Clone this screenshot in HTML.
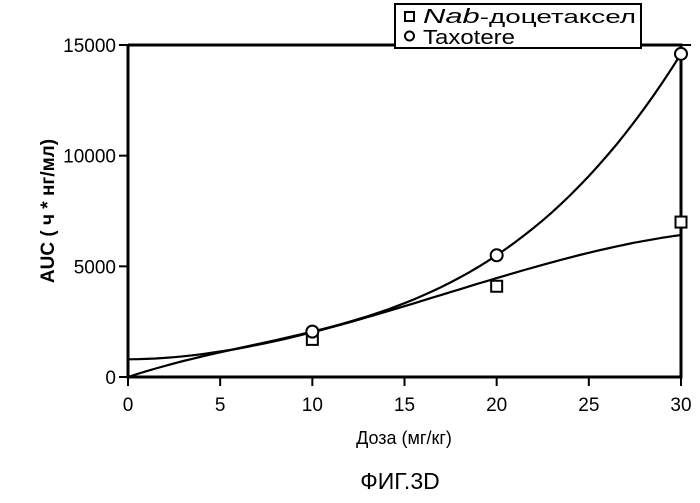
<!DOCTYPE html>
<html><head><meta charset="utf-8"><style>
body{margin:0;background:#fff;}
svg{font-family:"Liberation Sans",sans-serif;}
</style></head><body>
<svg width="700" height="498" viewBox="0 0 700 498">
<g id="axes"></g><g id="marks"></g>
</svg>
<script>
const xTicks=[0,5,10,15,20,25,30];
const yTicks=[0,5000,10000,15000];
const doses=[10,20,30];
const nabValues=[1700,4100,7000];
const taxValues=[2050,5500,14600];
const nabFit=[800,3.44,14.75,-0.2875]; // polynomial coefficients c0..c3
const NS='http://www.w3.org/2000/svg';
const X=v=>128+v*(681-128)/30;
const Y=v=>377-v*(377-45)/15000;
const axes=document.getElementById('axes'),marks=document.getElementById('marks');
function mk(p,tag,attrs,txt){const e=document.createElementNS(NS,tag);for(const k in attrs)e.setAttribute(k,attrs[k]);if(txt!==undefined)e.textContent=txt;p.appendChild(e);return e;}
let e;
e=mk(axes,'path',{d:`M${X(0)},${Y(15000)} V${Y(0)} H${X(30)} V${Y(15000)} H${X(0)}`,fill:'none',stroke:'#000','stroke-width':3});

xTicks.forEach(t=>{
 e=mk(axes,'line',{x1:X(t),x2:X(t),y1:Y(0),y2:Y(0)+9,stroke:'#000','stroke-width':2});
 
 e=mk(axes,'text',{x:X(t),y:Y(0)+34,'text-anchor':'middle','font-size':19},t);
 
});
yTicks.forEach(t=>{
 e=mk(axes,'line',{x1:X(0)-9,x2:X(0),y1:Y(t),y2:Y(t),stroke:'#000','stroke-width':2});
 
 e=mk(axes,'text',{x:X(0)-12,y:Y(t)+7,'text-anchor':'end','font-size':19},t);
 
});
e=mk(axes,'line',{x1:X(30)-6,x2:X(30)+10,y1:Y(15000),y2:Y(15000),stroke:'#000','stroke-width':2});

e=mk(axes,'text',{x:404,y:444,'text-anchor':'middle','font-size':18},'Доза (мг/кг)');

e=mk(axes,'text',{x:0,y:0,'text-anchor':'middle','font-size':19,'font-weight':'bold',transform:'translate(54,211) rotate(-90)'},'AUC ( ч * нг/мл)');

e=mk(axes,'text',{x:400,y:489,'text-anchor':'middle','font-size':23},'ФИГ.3D');

// Nab fit curve
let dn='';for(let i=0;i<=60;i++){const x=i*0.5;const y=nabFit[0]+nabFit[1]*x+nabFit[2]*x*x+nabFit[3]*x*x*x;dn+=(i?'L':'M')+X(x).toFixed(1)+','+Y(y).toFixed(1);}
e=mk(marks,'path',{d:dn,fill:'none',stroke:'#000','stroke-width':2.2});

// Taxotere cubic through origin and points
const xs=doses,ys=taxValues;
function solve3(A,b){const M=A.map((r,i)=>[...r,b[i]]);for(let i=0;i<3;i++){for(let j=i+1;j<3;j++){const f=M[j][i]/M[i][i];for(let k=i;k<4;k++)M[j][k]-=f*M[i][k];}}const x=[0,0,0];for(let i=2;i>=0;i--){let s=M[i][3];for(let k=i+1;k<3;k++)s-=M[i][k]*x[k];x[i]=s/M[i][i];}return x;}
const c=solve3(xs.map(x=>[x,x*x,x*x*x]),ys);
let d='';for(let i=0;i<=60;i++){const x=i*0.5;const y=c[0]*x+c[1]*x*x+c[2]*x*x*x;d+=(i?'L':'M')+X(x).toFixed(1)+','+Y(y).toFixed(1);}
e=mk(marks,'path',{d:d,fill:'none',stroke:'#000','stroke-width':2.2});

doses.forEach((x,i)=>{
 e=mk(marks,'rect',{x:X(x)-5.5,y:Y(nabValues[i])-5.5,width:11,height:11,fill:'#fff',stroke:'#000','stroke-width':2});
 
 e=mk(marks,'circle',{cx:X(x),cy:Y(taxValues[i]),r:6,fill:'#fff',stroke:'#000','stroke-width':2});
 
});
// legend
const lg=mk(marks,'g',{});

mk(lg,'rect',{x:395,y:4,width:246,height:44,fill:'#fff',stroke:'#000','stroke-width':2});
e=mk(lg,'rect',{x:405,y:12,width:9,height:9,fill:'#fff',stroke:'#000','stroke-width':2});

e=mk(lg,'text',{x:423,y:23,'font-size':18,textLength:213,lengthAdjust:'spacingAndGlyphs'});

mk(e,'tspan',{'font-style':'italic','font-size':20},'Nab');mk(e,'tspan',{},'-доцетаксел');
e=mk(lg,'circle',{cx:409.5,cy:36,r:4.5,fill:'#fff',stroke:'#000','stroke-width':2});

e=mk(lg,'text',{x:423,y:44,'font-size':20,textLength:92,lengthAdjust:'spacingAndGlyphs'},'Taxotere');

</script>
</body></html>
